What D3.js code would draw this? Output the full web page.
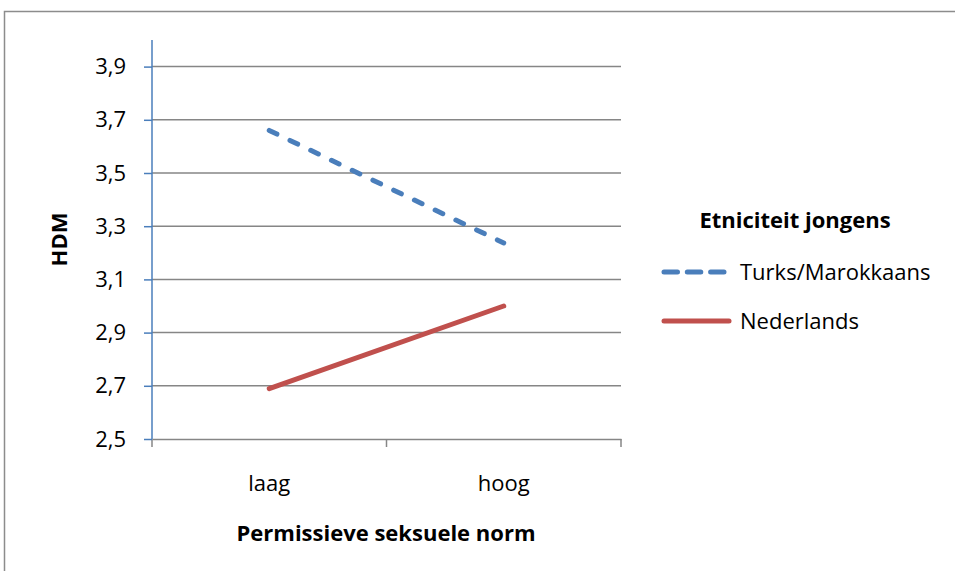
<!DOCTYPE html>
<html>
<head>
<meta charset="utf-8">
<script src="https://cdn.jsdelivr.net/npm/d3@7"></script>
<style>
  body { margin: 0; background: #fff; }
  text { font-family: "Open Sans", "Noto Sans", sans-serif; fill: #000; }
</style>
</head>
<body>
<div id="chart"></div>
<script>
// data
var categories = ["laag", "hoog"];
var seriesNames = ["Turks/Marokkaans", "Nederlands"];
var turksValues = [3.66, 3.237];
var nederlandsValues = [2.689, 3.0];
var yTicks = [2.5, 2.7, 2.9, 3.1, 3.3, 3.5, 3.7, 3.9];

var W = 955, H = 571;
var margin = {top: 40, left: 152, right: 334, bottom: 132};
var width = W - margin.left - margin.right,
    height = H - margin.top - margin.bottom;

var svg = d3.select("#chart")
  .append("svg")
  .attr("width", W)
  .attr("height", H);

// outer frame
svg.append("rect")
  .attr("x", 4.5).attr("y", 11.5)
  .attr("width", W + 10).attr("height", H + 10)
  .attr("fill", "none")
  .attr("stroke", "#8c8c8c")
  .attr("stroke-width", 1.5);

var g = svg.append("g")
  .attr("transform", "translate(" + margin.left + "," + margin.top + ")");

var x = d3.scaleBand().domain(categories).range([0, width]);
var y = d3.scaleLinear().domain([2.5, 4.0]).range([height, 0]);

// gridlines
g.selectAll(".grid")
  .data(yTicks.slice(1))
  .enter().append("line")
  .attr("x1", 0).attr("x2", width)
  .attr("y1", d => y(d)).attr("y2", d => y(d))
  .attr("stroke", "#868686")
  .attr("stroke-width", 1.5);

// x axis
var xAxis = g.append("g")
  .attr("transform", "translate(0," + height + ")")
  .call(d3.axisBottom(x).tickSize(0).tickPadding(36));
xAxis.select(".domain").attr("stroke", "#868686").attr("stroke-width", 1.5);
xAxis.selectAll("text").style("font-size", "22px").attr("fill", "#000");
// x tick marks between categories
g.selectAll(".xtick")
  .data([0, 1, 2])
  .enter().append("line")
  .attr("x1", d => d * x.bandwidth()).attr("x2", d => d * x.bandwidth())
  .attr("y1", height).attr("y2", height + 8)
  .attr("stroke", "#868686")
  .attr("stroke-width", 1.5);

// y axis
var yAxis = g.append("g")
  .call(d3.axisLeft(y).tickValues(yTicks).tickSize(8).tickPadding(18)
    .tickFormat(d => d3.format(".1f")(d).replace(".", ",")));
yAxis.select(".domain").attr("stroke", "#4a7ebb").attr("stroke-width", 1.5)
  .attr("d", "M0," + y(4.0) + "V" + height);
yAxis.selectAll(".tick line").attr("stroke", "#4a7ebb").attr("stroke-width", 1.5);
yAxis.selectAll("text").style("font-size", "22px").attr("fill", "#000");

// lines
var line = d3.line()
  .x((d, i) => x(categories[i]) + x.bandwidth() / 2)
  .y(d => y(d));

g.append("path")
  .datum(turksValues)
  .attr("d", line)
  .attr("fill", "none")
  .attr("stroke", "#4a7ebb")
  .attr("stroke-width", 5)
  .attr("stroke-linecap", "round")
  .attr("stroke-dasharray", "8.5,14.5");

g.append("path")
  .datum(nederlandsValues)
  .attr("d", line)
  .attr("fill", "none")
  .attr("stroke", "#c0504d")
  .attr("stroke-width", 5)
  .attr("stroke-linecap", "round");

// axis titles
svg.append("text")
  .attr("transform", "translate(67," + (margin.top + height / 2) + ") rotate(-90)")
  .attr("text-anchor", "middle")
  .style("font-size", "22px")
  .style("font-weight", "bold")
  .text("HDM");

svg.append("text")
  .attr("x", 386).attr("y", 541)
  .attr("text-anchor", "middle")
  .style("font-size", "22px")
  .style("font-weight", "bold")
  .text("Permissieve seksuele norm");

// legend
var legend = svg.append("g");
legend.append("text")
  .attr("x", 795).attr("y", 228)
  .attr("text-anchor", "middle")
  .style("font-size", "22px")
  .style("font-weight", "bold")
  .text("Etniciteit jongens");

var legendStyles = [
  {color: "#4a7ebb", dash: "13.5,9.8"},
  {color: "#c0504d", dash: null}
];
seriesNames.forEach(function(name, i) {
  var ly = 272 + i * 49;
  legend.append("line")
    .attr("x1", 664).attr("x2", i === 0 ? 724 : 729)
    .attr("y1", ly).attr("y2", ly)
    .attr("stroke", legendStyles[i].color)
    .attr("stroke-width", 5)
    .attr("stroke-linecap", "round")
    .attr("stroke-dasharray", legendStyles[i].dash);
  legend.append("text")
    .attr("x", 740).attr("y", ly + 8)
    .style("font-size", "22px")
    .text(name);
});
</script>
</body>
</html>
